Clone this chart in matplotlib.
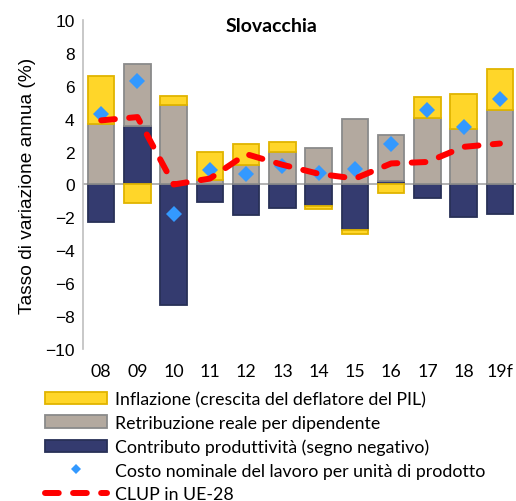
import matplotlib
matplotlib.use("Agg")
import matplotlib.pyplot as plt
import numpy as np
from matplotlib.patches import Patch
from matplotlib.lines import Line2D

years = ["08", "09", "10", "11", "12", "13", "14", "15", "16", "17", "18", "19f"]
inflazione = [2.88, -1.15, 0.53, 1.70, 1.28, 0.59, -0.20, -0.24, -0.50, 1.26, 2.09, 2.49]
retribuzione = [3.70, 3.75, 4.86, 0.28, 1.17, 1.98, 2.19, 3.97, 2.80, 4.07, 3.40, 4.52]
produttivita = [-2.27, 3.55, -7.34, -1.05, -1.86, -1.46, -1.30, -2.78, 0.20, -0.85, -2.00, -1.80]
clup = [4.30, 6.30, -1.80, 0.91, 0.63, 1.11, 0.67, 0.93, 2.45, 4.56, 3.50, 5.19]
clup_ue28 = [3.90, 4.10, 0.00, 0.36, 1.85, 1.20, 0.65, 0.36, 1.28, 1.37, 2.29, 2.49]

labels = [
    "Inflazione (crescita del deflatore del PIL)",
    "Retribuzione reale per dipendente",
    "Contributo produttività (segno negativo)",
    "Costo nominale del lavoro per unità di prodotto",
    "CLUP in UE-28",
]

YELLOW, YELLOW_EDGE = "#FFD629", "#E0B400"
GREY, GREY_EDGE = "#B3A99F", "#8A8A8A"
NAVY, NAVY_EDGE = "#343B6F", "#283057"
BLUE = "#3399FF"
RED = "#FF0000"

fig = plt.figure(figsize=(5.16, 5.02), dpi=100)
ax = fig.add_axes([0.161, 0.303, 0.843, 0.655])

x = np.arange(len(years))
width = 0.73

# stack positive and negative parts separately, in series order
pos_base = np.zeros(len(years))
neg_base = np.zeros(len(years))
series = [
    (produttivita, NAVY, NAVY_EDGE),
    (retribuzione, GREY, GREY_EDGE),
    (inflazione, YELLOW, YELLOW_EDGE),
]
for vals, fc, ec in series:
    vals = np.asarray(vals)
    base = np.where(vals >= 0, pos_base, neg_base)
    ax.bar(x, vals, width, bottom=base, color=fc, edgecolor=ec,
           linewidth=1.3, zorder=2)
    pos_base = pos_base + np.where(vals >= 0, vals, 0)
    neg_base = neg_base + np.where(vals < 0, vals, 0)

ax.axhline(0, color="#A6A6A6", linewidth=1.2, zorder=1)

ax.plot(x, clup, linestyle="none", marker="D", markersize=8.3,
        color=BLUE, markeredgewidth=0, zorder=3)
ax.plot(x, clup_ue28, color=RED, linewidth=4.3, dashes=(2.3, 2.4),
        dash_capstyle="round", solid_capstyle="round", zorder=4)

ax.set_xlim(-0.5, len(years) - 0.5)
ax.set_ylim(-10, 10)
ax.set_yticks(np.arange(-10, 11, 2))
ax.set_xticks(x)
ax.set_xticklabels(years, fontfamily="Lato", fontsize=12.8)
for lab in ax.get_yticklabels():
    lab.set_fontfamily("Liberation Sans")
    lab.set_fontsize(12.5)
ax.tick_params(axis="both", length=0, pad=6)
ax.tick_params(axis="x", pad=10)

for side in ["top", "right", "bottom"]:
    ax.spines[side].set_visible(False)
ax.spines["left"].set_color("#BFBFBF")
ax.spines["left"].set_linewidth(1.2)

ax.set_ylabel("Tasso di variazione annua (%)", fontfamily="Liberation Sans",
              fontsize=13.8, labelpad=7)

fig.text(272 / 516, 1 - 27 / 502, "Slovacchia", fontfamily="Lato",
         fontweight="bold", fontsize=14, ha="center", va="center")

handles = [
    Patch(facecolor=YELLOW, edgecolor=YELLOW_EDGE, linewidth=1.3),
    Patch(facecolor=GREY, edgecolor=GREY_EDGE, linewidth=1.3),
    Patch(facecolor=NAVY, edgecolor=NAVY_EDGE, linewidth=1.3),
    Line2D([], [], linestyle="none", marker="D", markersize=5,
           color=BLUE, markeredgewidth=0),
    Line2D([], [], color=RED, linewidth=4.3, dashes=(2.3, 2.4),
           dash_capstyle="round"),
]
fig.legend(handles, labels, loc="upper left",
           bbox_to_anchor=(45 / 516, 1 - 392 / 502), frameon=False,
           prop={"family": "Lato", "size": 12.8}, handlelength=3.5,
           handleheight=0.7, handletextpad=0.45, labelspacing=0.43,
           borderaxespad=0, borderpad=0)

fig.savefig("out.png", dpi=100)
